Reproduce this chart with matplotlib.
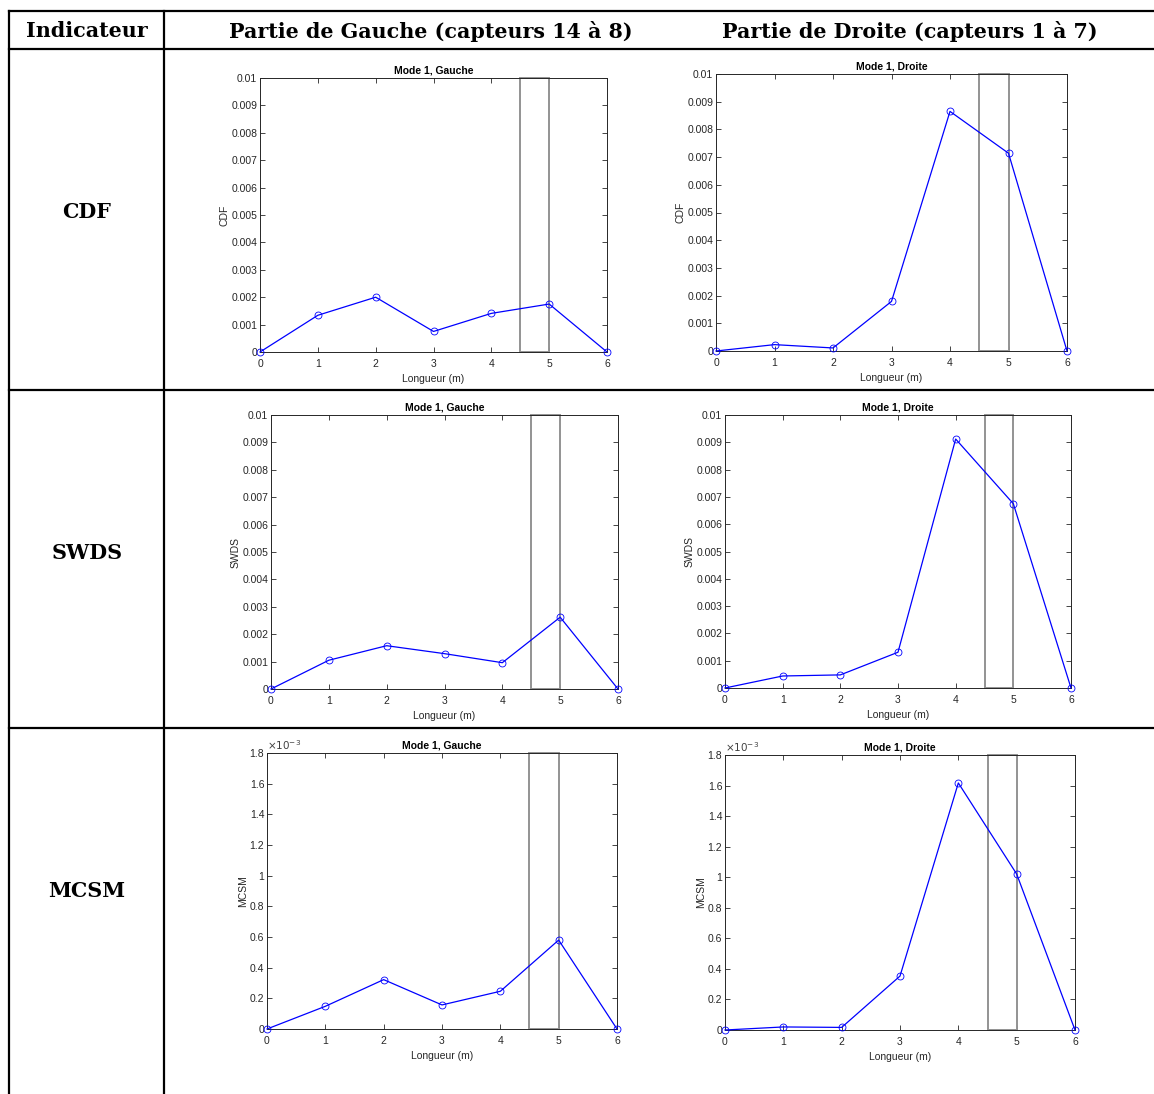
import numpy as np
import matplotlib
matplotlib.use("Agg")
import matplotlib.pyplot as plt
from matplotlib.lines import Line2D
from matplotlib.patches import Rectangle
from matplotlib.ticker import FuncFormatter

# positions along the beam (m)
longueur = [0, 1, 2, 3, 4, 5, 6]

# values
cdf_gauche = [0, 1.34e-3, 2.00e-3, 0.75e-3, 1.41e-3, 1.75e-3, 0]
cdf_droite = [0, 0.23e-3, 0.11e-3, 1.79e-3, 8.65e-3, 7.14e-3, 0]
swds_gauche = [0, 1.05e-3, 1.58e-3, 1.29e-3, 0.96e-3, 2.62e-3, 0]
swds_droite = [0, 0.44e-3, 0.48e-3, 1.31e-3, 9.12e-3, 6.75e-3, 0]
mcsm_gauche = [0, 0.148e-3, 0.322e-3, 0.157e-3, 0.246e-3, 0.580e-3, 0]
mcsm_droite = [0, 0.020e-3, 0.017e-3, 0.353e-3, 1.617e-3, 1.021e-3, 0]

indicateurs = ["CDF", "SWDS", "MCSM"]
entetes = ["Indicateur", "Partie de Gauche (capteurs 14 à 8)", "Partie de Droite (capteurs 1 à 7)"]
zone_endommagee = (4.5, 5.0)

W, H = 1154, 1094
fig = plt.figure(figsize=(W / 100, H / 100), dpi=100)
fig.patch.set_facecolor("white")


def fx(px):
    return px / W


def fy(py):
    return 1 - py / H


# table lines (pixel coords of the reference)
lw_tab = 1.6
for y in [11, 49, 390, 728]:
    fig.add_artist(Line2D([fx(9), fx(W)], [fy(y), fy(y)], color="black", lw=lw_tab,
                          transform=fig.transFigure))
for x in [9, 164]:
    fig.add_artist(Line2D([fx(x), fx(x)], [fy(11), fy(H)], color="black", lw=lw_tab,
                          transform=fig.transFigure))

serif = "DejaVu Serif"
head_x = [87, 431, 910]
for x, t in zip(head_x, entetes):
    fig.text(fx(x), fy(31), t, ha="center", va="center", fontsize=14.9,
             fontweight="bold", family=serif)
for y, t in zip([212, 553, 891], indicateurs):
    fig.text(fx(87), fy(y), t, ha="center", va="center",
             fontsize=14.9, fontweight="bold", family=serif)

sans = "Liberation Sans"
fs = 7.5

# (left, right, top, bottom) in pixels
boxes = [
    (260, 607, 78, 352),
    (716, 1067, 74, 351),
    (271, 618, 415, 689),
    (725, 1071, 415, 688),
    (267, 617, 753, 1029),
    (725, 1075, 755, 1030),
]
series = [cdf_gauche, cdf_droite, swds_gauche, swds_droite, mcsm_gauche, mcsm_droite]
ylabels = ["CDF", "CDF", "SWDS", "SWDS", "MCSM", "MCSM"]
titres = ["Mode 1, Gauche", "Mode 1, Droite"] * 3

for i, (box, vals) in enumerate(zip(boxes, series)):
    l, r, t, b = box
    ax = fig.add_axes([fx(l), fy(b), (r - l) / W, (b - t) / H])
    ax.plot(longueur, vals, color="blue", lw=0.9, marker="o", markersize=5,
            markerfacecolor="none", markeredgecolor="blue", markeredgewidth=0.6,
            clip_on=False, zorder=3)
    if i < 4:
        ymax = 0.01
        ax.set_yticks(np.arange(0, 0.0101, 0.001))
        ax.yaxis.set_major_formatter(FuncFormatter(lambda v, p: f"{v:g}"))
    else:
        ymax = 1.8e-3
        ax.set_yticks(np.arange(0, 1.81e-3, 0.2e-3))
        ax.yaxis.set_major_formatter(FuncFormatter(lambda v, p: f"{round(v * 1e3, 1):g}"))
        ax.text(0.0, 1.005, r"$\times10^{-3}$", transform=ax.transAxes, ha="left",
                va="bottom", fontsize=fs, color="#404040", family=sans)
    ax.add_patch(Rectangle((zone_endommagee[0], 0), zone_endommagee[1] - zone_endommagee[0],
                           ymax, fill=False, edgecolor="#939393", lw=1.4, zorder=2,
                           clip_on=False))
    ax.set_xlim(0, 6)
    ax.set_ylim(0, ymax)
    ax.set_xticks(longueur)
    ax.tick_params(direction="in", top=True, right=True, length=3.5, width=0.6,
                   labelsize=fs, colors="#262626", pad=2)
    ax.tick_params(axis="x", pad=5)
    for lab in ax.get_xticklabels() + ax.get_yticklabels():
        lab.set_family(sans)
    for s in ax.spines.values():
        s.set_linewidth(0.7)
        s.set_color("#262626")
    ax.set_xlabel("Longueur (m)", fontsize=fs, family=sans, color="#262626", labelpad=3.5)
    ax.set_ylabel(ylabels[i], fontsize=fs, family=sans, color="#262626", labelpad=1)
    ax.set_title(titres[i], fontsize=fs, fontweight="bold", family=sans, pad=3)

fig.savefig("out.png", dpi=100, facecolor="white")
